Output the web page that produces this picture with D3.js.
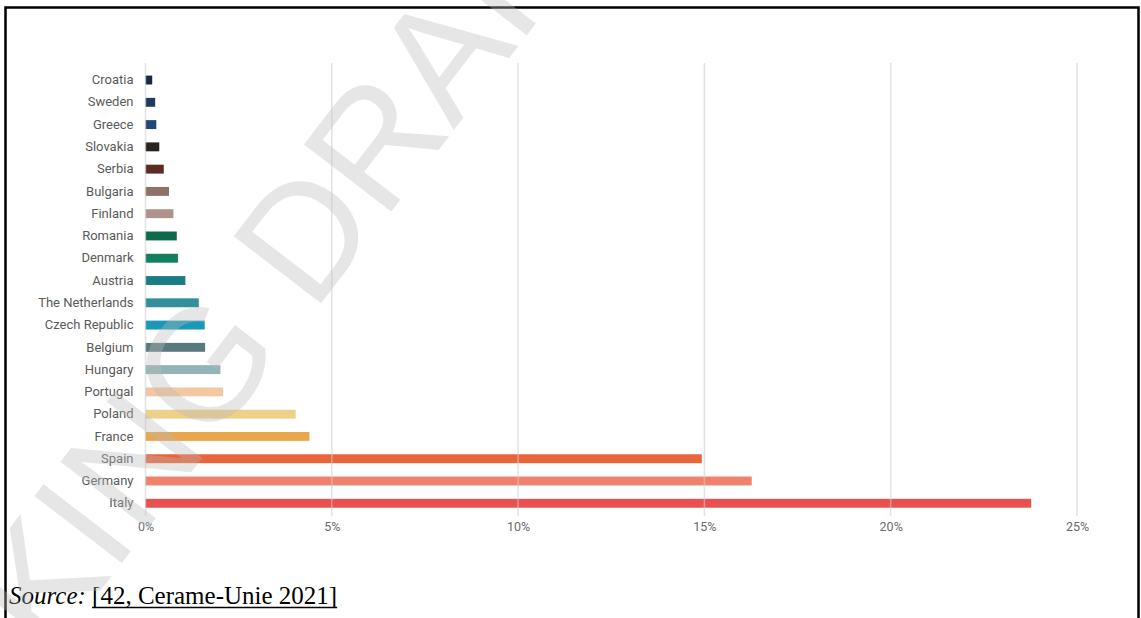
<!DOCTYPE html>
<html>
<head>
<meta charset="utf-8">
<script src="https://cdn.jsdelivr.net/npm/d3@7/dist/d3.min.js"></script>
<style>
  html, body { margin: 0; padding: 0; background: #fff; }
  svg { display: block; }
</style>
</head>
<body>
<svg id="chart" width="1141" height="618"></svg>
<script>
// Share of EU ceramic tile production by country (%)
const countries = [
  "Croatia", "Sweden", "Greece", "Slovakia", "Serbia", "Bulgaria", "Finland",
  "Romania", "Denmark", "Austria", "The Netherlands", "Czech Republic",
  "Belgium", "Hungary", "Portugal", "Poland", "France", "Spain", "Germany", "Italy"
];
const shares = [
  0.18, 0.26, 0.29, 0.37, 0.49, 0.63, 0.75,
  0.84, 0.87, 1.07, 1.43, 1.59,
  1.60, 2.01, 2.08, 4.03, 4.40, 14.93, 16.27, 23.77
];
const barColors = [
  "#1b2a40", "#1d3a5f", "#1f4878", "#2a2420", "#5b2b24", "#8e7168", "#b0928c",
  "#0d6a4c", "#12805e", "#1a7d84", "#338f9b", "#1b98b8",
  "#587a7f", "#92b4b6", "#f2c7a2", "#edd089", "#eba54a", "#e9643a", "#f0826d", "#e8514e"
];
const xTicks = [0, 5, 10, 15, 20, 25];

const svg = d3.select("#chart");

const x = d3.scaleLinear().domain([0, 25]).range([145.5, 1077]);
const y = d3.scaleBand().domain(countries).range([68.9, 514.4])
  .paddingInner(0.6).paddingOuter(0.3);

const data = countries.map((c, i) => ({ country: c, value: shares[i], color: barColors[i] }));

// page frame
svg.append("rect")
  .attr("x", 5.5).attr("y", 7.5)
  .attr("width", 1133).attr("height", 700)
  .attr("fill", "none").attr("stroke", "#000").attr("stroke-width", 2.5);

// bars
svg.append("g").selectAll("rect").data(data).join("rect")
  .attr("x", x(0))
  .attr("y", d => y(d.country))
  .attr("width", d => x(d.value) - x(0))
  .attr("height", y.bandwidth())
  .attr("fill", d => d.color);

// vertical gridlines, drawn translucent over the bars
svg.append("g").selectAll("line").data(xTicks).join("line")
  .attr("x1", d => x(d)).attr("x2", d => x(d))
  .attr("y1", 63).attr("y2", 516)
  .attr("stroke", "rgb(205,205,205)").attr("stroke-opacity", 0.55)
  .attr("stroke-width", 1.6);

// x axis labels
const xAxis = d3.axisBottom(x).tickValues(xTicks).tickFormat(d => d + "%").tickSize(0).tickPadding(0);
const gx = svg.append("g").attr("transform", "translate(0,522)").call(xAxis);
gx.select(".domain").remove();
gx.selectAll("text")
  .attr("font-family", "Roboto, 'Liberation Sans', sans-serif")
  .attr("font-size", 12.5).attr("fill", "#6a6a6a").attr("dy", "0.71em");

// country labels
const yAxis = d3.axisLeft(y).tickSize(0).tickPadding(12);
const gy = svg.append("g").attr("transform", `translate(${x(0)},0)`).call(yAxis);
gy.select(".domain").remove();
gy.selectAll("text")
  .attr("font-family", "Roboto, 'Liberation Sans', sans-serif")
  .attr("font-size", 13).attr("fill", "#5a5a5a");

// source line, with the reference underlined across its full width
const srcY = 604;
const src = svg.append("text")
  .attr("x", 9).attr("y", srcY)
  .attr("font-family", "'Liberation Serif', 'Times New Roman', serif")
  .attr("font-size", 25).attr("fill", "#000");
src.append("tspan").attr("font-style", "italic").text("Source:");
src.append("tspan").text(" ");
const ref = src.append("tspan").text("[42, Cerame-Unie 2021]");
const srcNode = src.node();
const refStart = srcNode.getStartPositionOfChar(8).x;
const refEnd = srcNode.getEndPositionOfChar(srcNode.getNumberOfChars() - 1).x;
svg.append("line")
  .attr("x1", refStart).attr("x2", refEnd)
  .attr("y1", srcY + 3.5).attr("y2", srcY + 3.5)
  .attr("stroke", "#000").attr("stroke-width", 1.4);

// draft watermark
svg.append("text")
  .attr("transform", "translate(178,395) rotate(-52.5)")
  .attr("text-anchor", "middle").attr("dy", "0.36em")
  .attr("font-family", "'Liberation Sans', Arial, sans-serif")
  .attr("font-size", 160)
  .attr("fill", "rgb(185,185,185)").attr("fill-opacity", 0.36)
  .text("WORKING DRAFT");
</script>
</body>
</html>
